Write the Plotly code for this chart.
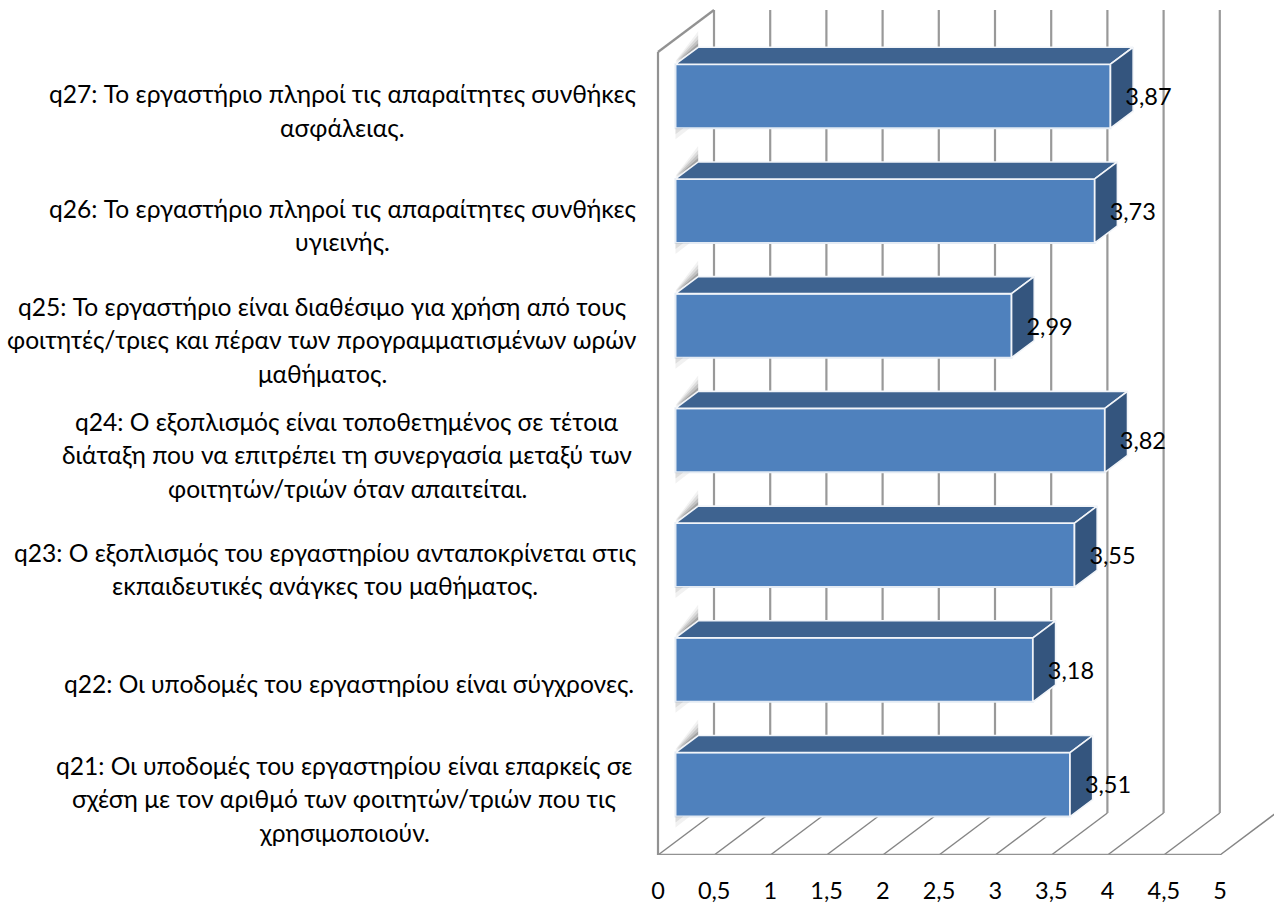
import plotly.graph_objects as go

# ---- data -----------------------------------------------------------------
question_ids = ["q21", "q22", "q23", "q24", "q25", "q26", "q27"]
values = [3.51, 3.18, 3.55, 3.82, 2.99, 3.73, 3.87]
value_labels = ["3,51", "3,18", "3,55", "3,82", "2,99", "3,73", "3,87"]
category_lines = [
    ["q21: Οι υποδομές του εργαστηρίου είναι επαρκείς σε",
     "σχέση με τον αριθμό των φοιτητών/τριών που τις",
     "χρησιμοποιούν."],
    ["q22: Οι υποδομές του εργαστηρίου είναι σύγχρονες."],
    ["q23: Ο εξοπλισμός του εργαστηρίου ανταποκρίνεται στις",
     "εκπαιδευτικές ανάγκες του μαθήματος."],
    ["q24: Ο εξοπλισμός είναι τοποθετημένος σε τέτοια",
     "διάταξη που να επιτρέπει τη συνεργασία μεταξύ των",
     "φοιτητών/τριών όταν απαιτείται."],
    ["q25: Το εργαστήριο είναι διαθέσιμο για χρήση από τους",
     "φοιτητές/τριες και πέραν των προγραμματισμένων ωρών",
     "μαθήματος."],
    ["q26: Το εργαστήριο πληροί τις απαραίτητες συνθήκες",
     "υγιεινής."],
    ["q27: Το εργαστήριο πληροί τις απαραίτητες συνθήκες",
     "ασφάλειας."],
]
label_centers_px = [344, 349, 325, 347, 322, 342, 342]
tick_values = [0, 0.5, 1, 1.5, 2, 2.5, 3, 3.5, 4, 4.5, 5]
tick_labels = ["0", "0,5", "1", "1,5", "2", "2,5", "3", "3,5", "4", "4,5", "5"]

# ---- layout constants -----------------------------------------------------
W, H = 1274, 903
X0_PX, X5_PX = 658.0, 1220.0
FLOOR_PX, WALL_TOP_PX = 855.0, 52.0
PX_PER_VAL = (X5_PX - X0_PX) / 5
PX_PER_CAT = (FLOOR_PX - WALL_TOP_PX) / 7
PLOT_LEFT = 640
DX = 56 / PX_PER_VAL          # full depth of the box, value units
DY = 42 / PX_PER_CAT          # full depth of the box, category units
D_FRONT, D_BACK = 0.3125, 0.717
BAR_H = 64 / PX_PER_CAT
FONT = "Lato, 'Open Sans', sans-serif"
TXT = 24.6
TICK_TXT = 23.5
cats = list(range(len(values)))
Y_LOW, Y_TOP = -0.5, 6.5 + WALL_TOP_PX / PX_PER_CAT


def px(v, c, d):
    return v + d * DX, c + d * DY


fig = go.Figure()

# ---- box: walls, floor, gridlines -----------------------------------------
def seg(p, q, color, width):
    fig.add_shape(type="line", xref="x", yref="y", layer="below",
                  x0=p[0], y0=p[1], x1=q[0], y1=q[1],
                  line=dict(color=color, width=width))


top_c, low_c = 6.5, -0.5
for t in tick_values:
    seg(px(t, low_c, 0), px(t, low_c, 1), "#858585", 1.4)
    seg(px(t, low_c, 1), px(t, top_c, 1), "#999999", 2.2)
seg(px(0, low_c, 0), px(5, low_c, 0), "#929292", 2.4)
seg(px(0, low_c, 0), px(0, top_c, 0), "#929292", 2.2)
seg(px(0, top_c, 0), px(0, top_c, 1), "#929292", 2.2)

# ---- soft shadows on the left wall ----------------------------------------
for s, a in [(4, 0.30), (8, 0.20), (12, 0.14), (16, 0.08)]:
    sx, sy = [], []
    for c in cats:
        yb = c + BAR_H / 2
        p1, p2 = px(0, yb, D_FRONT), px(0, yb, D_BACK)
        lift = s / PX_PER_CAT
        sx += [p1[0], p2[0], p2[0], p1[0], p1[0], None]
        sy += [p1[1] + lift * 0.2, p2[1], p2[1] + lift, p1[1] + lift * 0.2, p1[1] + lift * 0.2, None]
    fig.add_trace(go.Scatter(x=sx, y=sy, mode="lines", fill="toself", line=dict(width=0),
                             fillcolor=f"rgba(90,90,90,{a})", hoverinfo="skip", showlegend=False))
for s, a in [(6, 0.16), (11, 0.10)]:
    sx, sy = [], []
    for c in cats:
        yb = c - BAR_H / 2
        p1 = px(0, yb, D_FRONT)
        sx += [p1[0], p1[0] + s / PX_PER_VAL * 1.3, p1[0], p1[0], None]
        sy += [p1[1], p1[1], p1[1] - s / PX_PER_CAT, p1[1], None]
    fig.add_trace(go.Scatter(x=sx, y=sy, mode="lines", fill="toself", line=dict(width=0),
                             fillcolor=f"rgba(120,120,120,{a})", hoverinfo="skip", showlegend=False))

# ---- bars: front faces ----------------------------------------------------
fig.add_trace(go.Bar(
    orientation="h",
    x=values,
    y=[c + D_FRONT * DY for c in cats],
    base=D_FRONT * DX,
    width=BAR_H,
    marker=dict(color="#4F81BD", line=dict(color="#E4EBF4", width=2)),
    customdata=question_ids,
    hovertemplate="%{customdata}: %{x}<extra></extra>",
    showlegend=False,
))

# ---- bars: top and side faces ---------------------------------------------
tx, ty, sx, sy = [], [], [], []
for v, c in zip(values, cats):
    hi, lo = c + BAR_H / 2, c - BAR_H / 2
    a, b = px(0, hi, D_FRONT), px(v, hi, D_FRONT)
    e, f = px(v, hi, D_BACK), px(0, hi, D_BACK)
    g, h = px(v, lo, D_BACK), px(v, lo, D_FRONT)
    tx += [a[0], b[0], e[0], f[0], a[0], None]
    ty += [a[1], b[1], e[1], f[1], a[1], None]
    sx += [b[0], e[0], g[0], h[0], b[0], None]
    sy += [b[1], e[1], g[1], h[1], b[1], None]
fig.add_trace(go.Scatter(x=tx, y=ty, mode="lines", fill="toself", fillcolor="#3E6390",
                         line=dict(color="#F2F5F9", width=1.6), hoverinfo="skip", showlegend=False))
fig.add_trace(go.Scatter(x=sx, y=sy, mode="lines", fill="toself", fillcolor="#34557E",
                         line=dict(color="#F2F5F9", width=1.6), hoverinfo="skip", showlegend=False))

# ---- data labels ----------------------------------------------------------
fig.add_trace(go.Scatter(
    x=[v + D_FRONT * DX + 38 / PX_PER_VAL for v in values],
    y=[c + D_FRONT * DY - 3 / PX_PER_CAT for c in cats],
    mode="text", text=value_labels, textposition="middle center",
    textfont=dict(family=FONT, size=TICK_TXT, color="#000000"),
    hoverinfo="skip", showlegend=False, cliponaxis=False,
))

# ---- category labels, line by line ----------------------------------------
LINE_PX = 33.5
for c, lines, cx in zip(cats, category_lines, label_centers_px):
    for i, line in enumerate(lines):
        fig.add_annotation(
            text=line, xref="paper", yref="y", x=0, y=c,
            xshift=cx - PLOT_LEFT,
            yshift=-1 - (i - (len(lines) - 1) / 2) * LINE_PX,
            xanchor="center", yanchor="middle", showarrow=False,
            font=dict(family=FONT, size=TXT, color="#000000"),
        )

fig.update_layout(
    width=W, height=H, autosize=False,
    margin=dict(l=PLOT_LEFT, r=0, t=0, b=H - FLOOR_PX, pad=0),
    paper_bgcolor="#FFFFFF", plot_bgcolor="#FFFFFF",
    showlegend=False, barmode="overlay",
    xaxis=dict(range=[(PLOT_LEFT - X0_PX) / PX_PER_VAL, (W - X0_PX) / PX_PER_VAL],
               tickmode="array", tickvals=tick_values, ticktext=tick_labels,
               showgrid=False, zeroline=False, showline=False, ticks="",
               ticklabelstandoff=19, automargin=False,
               tickfont=dict(family=FONT, size=TICK_TXT, color="#000000")),
    yaxis=dict(range=[Y_LOW, Y_TOP], showgrid=False, zeroline=False, showline=False,
               showticklabels=False, ticks="", automargin=False),
)

fig.write_html("out.html", config={"displayModeBar": False},
               post_script="document.body.style.margin='0';document.body.style.overflow='hidden';")
